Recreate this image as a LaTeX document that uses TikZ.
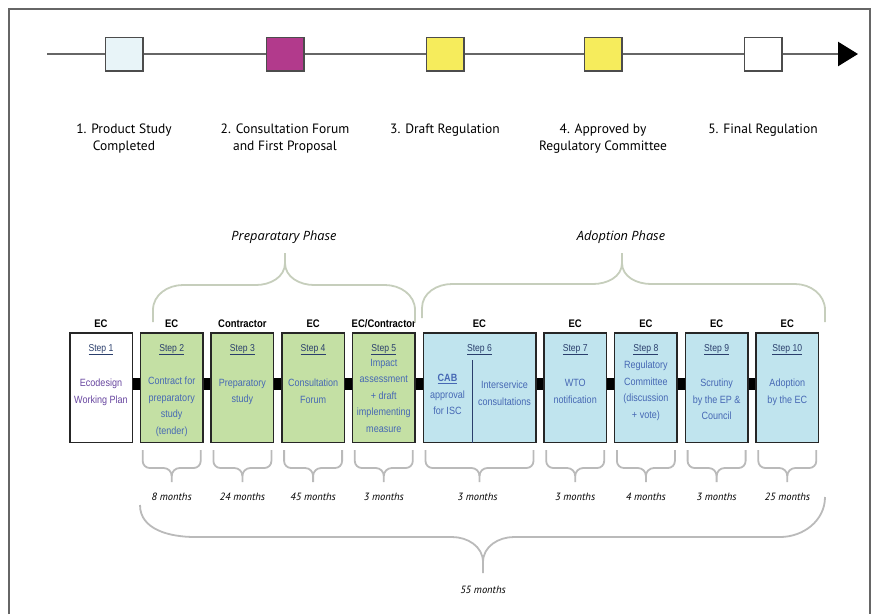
\documentclass[tikz,border=0pt]{standalone}
\usepackage{fontspec}
\setmainfont{PT Sans}
\newfontfamily\boxfont[FakeStretch=0.86]{Liberation Sans}
\newfontfamily\phasefont{Open Sans}
\usetikzlibrary{positioning,arrows.meta}

\definecolor{prepgreen}{RGB}{196,224,164}
\definecolor{adoptblue}{RGB}{192,228,238}
\definecolor{steptext}{RGB}{70,104,180}
\definecolor{plantext}{RGB}{104,70,160}
\definecolor{bracegrey}{RGB}{186,186,186}
\definecolor{phasegrey}{RGB}{198,206,188}
\definecolor{studyblue}{RGB}{232,244,248}
\definecolor{forummag}{RGB}{178,58,140}
\definecolor{draftyel}{RGB}{246,236,92}

\begin{document}
\begin{tikzpicture}[x=1pt,y=-1pt,
  stepbox/.style={draw=black!85,line width=1.5pt,minimum width=62.5pt,minimum height=109.5pt,inner sep=0pt},
  prepbox/.style={stepbox,fill=prepgreen},
  adoptbox/.style={stepbox,fill=adoptblue},
  head/.style={font=\boxfont\bfseries\fontsize{11}{12}\selectfont,inner sep=1pt},
  steplbl/.style={font=\boxfont\fontsize{10}{11}\selectfont,text=steptext!60!black,inner sep=0pt},
  body/.style={font=\boxfont\fontsize{10.5}{16.5}\selectfont,text=steptext,align=center,inner sep=0pt},
  marker/.style={draw=black!70,line width=1.5pt,minimum width=37.5pt,minimum height=33.5pt,inner sep=0pt},
  milestone/.style={font=\fontsize{13.5}{17}\selectfont,align=center,inner sep=0pt},
  months/.style={font=\itshape\fontsize{10.5}{12}\selectfont,inner sep=0pt},
  phase/.style={font=\phasefont\itshape\fontsize{12.8}{14}\selectfont},
  link/.style={fill=black},
  monthbrace/.style={draw=bracegrey,line width=1.8pt},
  phasebrace/.style={draw=phasegrey,line width=1.8pt}
]
\useasboundingbox (0,0) rectangle (872,614);
\draw[black!60,line width=1.2pt] (9,614) -- (9,9) -- (870,9) -- (870,614);

% time line
\coordinate (tstart) at (47,54);
\coordinate (tend) at (858,54);
\draw[black!60,line width=2.5pt,-{Triangle[length=20pt,width=24pt,color=black]}] (tstart) -- (tend);
\node[marker,fill=studyblue] (m1) at (124,54) {};
\node[marker,fill=forummag] (m2) at (285,54) {};
\node[marker,fill=draftyel] (m3) at (445,54) {};
\node[marker,fill=draftyel] (m4) at (603,54) {};
\node[marker,fill=white] (m5) at (763,54) {};
\node[milestone,below=52pt of m1] (t1) {1. Product Study\\Completed};
\node[milestone,below=52pt of m2] (t2) {2. Consultation Forum\\and First Proposal};
\node[milestone,below=52pt of m3] (t3) {3. Draft Regulation};
\node[milestone,below=52pt of m4] (t4) {4. Approved by\\Regulatory Committee};
\node[milestone,below=52pt of m5] (t5) {5. Final Regulation};

% steps
\node[stepbox,fill=white] (s1) at (101,387.5) {};
\node[prepbox,right=6.7pt of s1] (s2) {};
\node[prepbox,right=6.7pt of s2] (s3) {};
\node[prepbox,right=6.7pt of s3] (s4) {};
\node[prepbox,right=6.7pt of s4] (s5) {};
\node[adoptbox,minimum width=112.5pt,right=6.7pt of s5] (s6) {};
\node[adoptbox,right=6.7pt of s6] (s7) {};
\node[adoptbox,right=6.7pt of s7] (s8) {};
\node[adoptbox,right=6.7pt of s8] (s9) {};
\node[adoptbox,right=6.7pt of s9] (s10) {};

\node[head,above=3pt of s1] (h1) {EC};
\node[head,above=3pt of s2] (h2) {EC};
\node[head,above=3pt of s3] (h3) {Contractor};
\node[head,above=3pt of s4] (h4) {EC};
\node[head,above=3pt of s5] (h5) {EC/Contractor};
\node[head,above=3pt of s6] (h6) {EC};
\node[head,above=3pt of s7] (h7) {EC};
\node[head,above=3pt of s8] (h8) {EC};
\node[head,above=3pt of s9] (h9) {EC};
\node[head,above=3pt of s10] (h10) {EC};

\node[steplbl,below=12pt of s1.north] (l1) {\underline{Step 1}};
\node[steplbl,below=12pt of s2.north] (l2) {\underline{Step 2}};
\node[steplbl,below=12pt of s3.north] (l3) {\underline{Step 3}};
\node[steplbl,below=12pt of s4.north] (l4) {\underline{Step 4}};
\node[steplbl,below=12pt of s5.north] (l5) {\underline{Step 5}};
\node[steplbl,below=12pt of s6.north] (l6) {\underline{Step 6}};
\node[steplbl,below=12pt of s7.north] (l7) {\underline{Step 7}};
\node[steplbl,below=12pt of s8.north] (l8) {\underline{Step 8}};
\node[steplbl,below=12pt of s9.north] (l9) {\underline{Step 9}};
\node[steplbl,below=12pt of s10.north] (l10) {\underline{Step 10}};

\node[body,text=plantext,below=47pt of s1.north] (b1) {Ecodesign\\Working Plan};
\node[body,below=45pt of s2.north] (b2) {Contract for\\preparatory\\study\\(tender)};
\node[body,below=47pt of s3.north] (b3) {Preparatory\\study};
\node[body,below=47pt of s4.north] (b4) {Consultation\\Forum};
\node[body,below=27pt of s5.north] (b5) {Impact\\assessment\\+ draft\\implementing\\measure};
\node[body,below=42pt of s6.north,xshift=-32pt] (b6a) {\underline{\textbf{CAB}}\\approval\\for ISC};
\node[body,below=49pt of s6.north,xshift=25pt] (b6b) {Interservice\\consultations};
\draw[steptext!60!black,line width=0.6pt] ([xshift=-7pt,yshift=-28pt]s6.north) -- ([xshift=-7pt]s6.south);
\node[body,below=47pt of s7.north] (b7) {WTO\\notification};
\node[body,below=29pt of s8.north] (b8) {Regulatory\\Committee\\(discussion\\+ vote)};
\node[body,below=47pt of s9.north] (b9) {Scrutiny\\by the EP \&\\Council};
\node[body,below=47pt of s10.north] (b10) {Adoption\\by the EC};

% links between steps
\foreach \a/\b in {s1/s2,s2/s3,s3/s4,s4/s5,s5/s6,s6/s7,s7/s8,s8/s9,s9/s10}
  \fill[link] ([yshift=10pt]\a.east) rectangle ([yshift=-2pt]\b.west);

% durations
\node[months,below=50pt of s2] (d2) {8 months};
\node[months,below=50pt of s3] (d3) {24 months};
\node[months,below=50pt of s4] (d4) {45 months};
\node[months,below=50pt of s5] (d5) {3 months};
\node[months,below=50pt of s6,xshift=-2pt] (d6) {3 months};
\node[months,below=50pt of s7] (d7) {3 months};
\node[months,below=50pt of s8] (d8) {4 months};
\node[months,below=50pt of s9] (d9) {3 months};
\node[months,below=50pt of s10] (d10) {25 months};
\foreach \s in {s2,s3,s4,s5,s6,s7,s8,s9,s10}{
  \draw[monthbrace] ([xshift=3pt,yshift=-7pt]\s.south west) -- ++(0,11) to[out=-90,in=180] ++(7,7)
    -- ([xshift=-8pt,yshift=-25pt]\s.south) to[out=0,in=90] ([yshift=-33pt]\s.south) -- ([yshift=-39pt]\s.south);
  \draw[monthbrace] ([xshift=-3pt,yshift=-7pt]\s.south east) -- ++(0,11) to[out=-90,in=0] ++(-7,7)
    -- ([xshift=8pt,yshift=-25pt]\s.south) to[out=180,in=90] ([yshift=-33pt]\s.south);
}

% total
\node[months] (total) at (483,590) {55 months};
\draw[monthbrace] (140,505) to[out=-90,in=180] (195,537) -- (452,537) to[out=0,in=90] (483,562) -- (483,573);
\draw[monthbrace] (825,497) to[out=-90,in=0] (780,537) -- (514,537) to[out=180,in=90] (483,562);

% phases
\node[phase] (prep) at (284,237) {Preparatary Phase};
\node[phase] (adopt) at (621,237) {Adoption Phase};
\draw[phasebrace] (153,322) -- (153,310) to[out=90,in=180] (183,285) -- (256,285) to[out=0,in=-90] (285,263) -- (285,253);
\draw[phasebrace] (415,322) -- (415,310) to[out=90,in=0] (385,285) -- (314,285) to[out=180,in=-90] (285,263);
\draw[phasebrace] (422,318) -- (422,308) to[out=90,in=180] (452,284) -- (593,284) to[out=0,in=-90] (622,263) -- (622,253);
\draw[phasebrace] (825,322) -- (825,310) to[out=90,in=0] (795,284) -- (651,284) to[out=180,in=-90] (622,263);
\end{tikzpicture}
\end{document}
